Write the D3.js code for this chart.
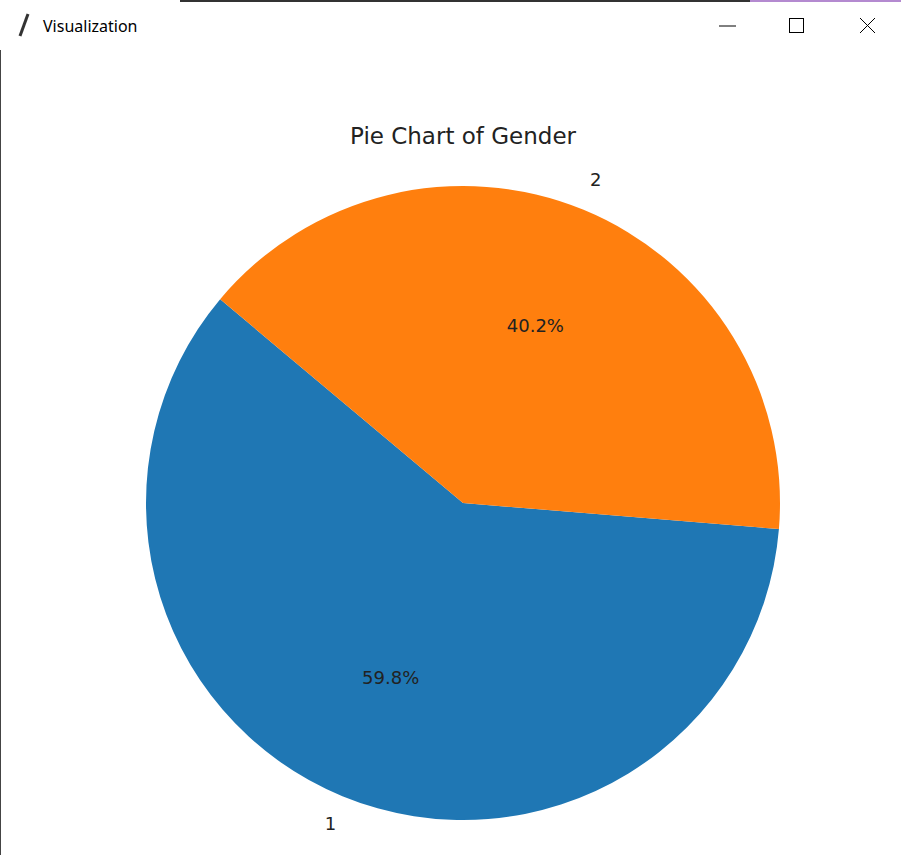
<!DOCTYPE html>
<html><head><meta charset="utf-8">
<script src="https://cdn.jsdelivr.net/npm/d3@7"></script>
<style>body{margin:0;background:#fff;overflow:hidden}text{font-family:"DejaVu Sans",sans-serif}</style>
</head><body>
<svg id="c" width="901" height="855"></svg>
<script>
const categories = ["1", "2"];
const values = [59.8, 40.2];
const colors = ["#1f77b4", "#ff7f0e"];
const title = "Pie Chart of Gender";

const svg = d3.select("#c");
// window chrome
svg.append("rect").attr("x",0).attr("y",0).attr("width",901).attr("height",855).attr("fill","#fff");
svg.append("rect").attr("x",180).attr("y",0).attr("width",570).attr("height",2).attr("fill","#333");
svg.append("rect").attr("x",750).attr("y",0).attr("width",151).attr("height",2).attr("fill","#b48ad0");
svg.append("rect").attr("x",0).attr("y",50).attr("width",1).attr("height",805).attr("fill","#444");
svg.append("text").attr("x",43).attr("y",32).attr("font-size",16).attr("fill","#000")
  .style("font-family","'Noto Sans',sans-serif").text("Visualization");
svg.append("path").attr("d","M28,14 L20,36").attr("stroke","#333").attr("stroke-width",3);
svg.append("line").attr("x1",719).attr("x2",736).attr("y1",26).attr("y2",26).attr("stroke","#000");
svg.append("rect").attr("x",789.5).attr("y",18.5).attr("width",14).attr("height",14).attr("fill","none").attr("stroke","#000");
svg.append("path").attr("d","M860,18 L875,33 M875,18 L860,33").attr("stroke","#000");

const cx = 463, cy = 503, r = 317;
const g = svg.append("g").attr("transform",`translate(${cx},${cy})`);
const start = (90 - 140) * Math.PI / 180;
const pie = d3.pie().sort(null).startAngle(start).endAngle(start - 2 * Math.PI);
const arcs = pie(values);
const arc = d3.arc().innerRadius(0).outerRadius(r);
g.selectAll("path.s").data(arcs).join("path").attr("class","s")
  .attr("d", arc).attr("fill", (d,i) => colors[i]);
const pos = (d, f) => { const a = (d.startAngle + d.endAngle) / 2; return [Math.sin(a)*r*f, -Math.cos(a)*r*f]; };
g.selectAll("text.l").data(arcs).join("text").attr("class","l")
  .attr("x", d => pos(d,1.1)[0]).attr("y", d => pos(d,1.1)[1])
  .attr("text-anchor","middle").attr("dominant-baseline","middle")
  .attr("font-size",18).attr("fill","#222").text((d,i) => categories[i]);
g.selectAll("text.p").data(arcs).join("text").attr("class","p")
  .attr("x", d => pos(d,0.6)[0]).attr("y", d => pos(d,0.6)[1])
  .attr("text-anchor","middle").attr("dominant-baseline","middle")
  .attr("font-size",18).attr("fill","#222").text(d => d.data.toFixed(1) + "%");
svg.append("text").attr("x",cx).attr("y",144).attr("text-anchor","middle")
  .attr("font-size",23).attr("fill","#222").text(title);
</script>
</body></html>
